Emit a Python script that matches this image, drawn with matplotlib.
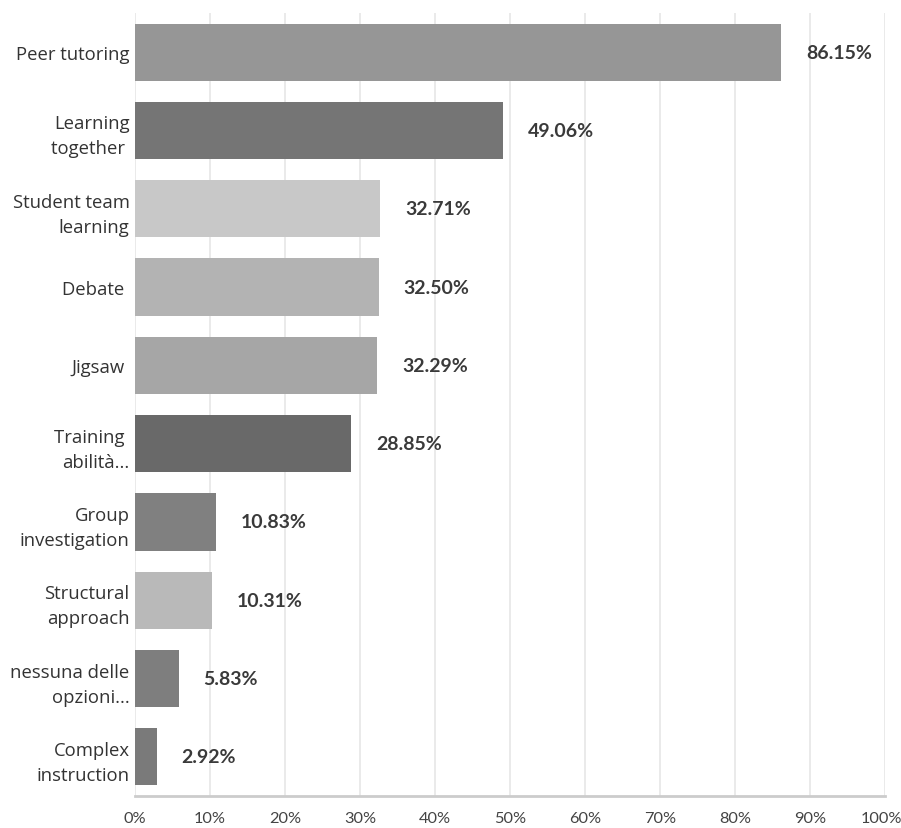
import matplotlib.pyplot as plt
import matplotlib.transforms as mtransforms
import numpy as np

categories = ["Peer tutoring", "Learning\ntogether ", "Student team\nlearning", "Debate ",
              "Jigsaw ", "Training \nabilità...", "Group\ninvestigation", "Structural\napproach",
              "nessuna delle\nopzioni...", "Complex\ninstruction"]
values = [86.15, 49.06, 32.71, 32.50, 32.29, 28.85, 10.83, 10.31, 5.83, 2.92]
colors = ["#969696", "#757575", "#c8c8c8", "#b3b3b3", "#a6a6a6",
          "#696969", "#808080", "#b9b9b9", "#7e7e7e", "#7a7a7a"]
xticks = np.arange(0, 101, 10)

plt.rcParams['font.family'] = ['Open Sans', 'DejaVu Sans']

fig = plt.figure(figsize=(9.01, 8.29), dpi=100)
ax = fig.add_axes([135 / 901, 1 - 797 / 829, 750 / 901, 783 / 829])

y = np.arange(len(categories))
ax.barh(y, values, height=0.73, color=colors, zorder=3)

# value labels to the right of each bar
for yi, v in zip(y, values):
    ax.text(v + 3.3, yi, f"{v:.2f}%", va="center", ha="left", family="Lato",
            fontsize=14, fontweight="bold", color="#3a3a3a")

ax.set_xlim(0, 100)
ax.set_ylim(len(categories) - 0.5, -0.5)
ax.set_xticks(xticks)
ax.set_xticklabels([f"{t}%" for t in xticks], fontsize=11.8, color="#444444",
                   family="Lato")
ax.set_yticks(y)
ax.set_yticklabels(categories, fontsize=13.3, color="#333333", linespacing=1.5)
ax.tick_params(axis="x", length=0, pad=11)
ax.tick_params(axis="y", length=0, pad=4)

# keep the last tick label inside the figure
last = ax.get_xticklabels()[-1]
last.set_transform(last.get_transform() +
                   mtransforms.ScaledTranslation(-4 / 100, 0, fig.dpi_scale_trans))

ax.grid(axis="x", color="#e6e6e6", linewidth=1.2, zorder=0)
for side in ["top", "right", "left"]:
    ax.spines[side].set_visible(False)
ax.spines["bottom"].set_color("#cccccc")
ax.spines["bottom"].set_linewidth(2)

fig.savefig("out.png", dpi=100)
